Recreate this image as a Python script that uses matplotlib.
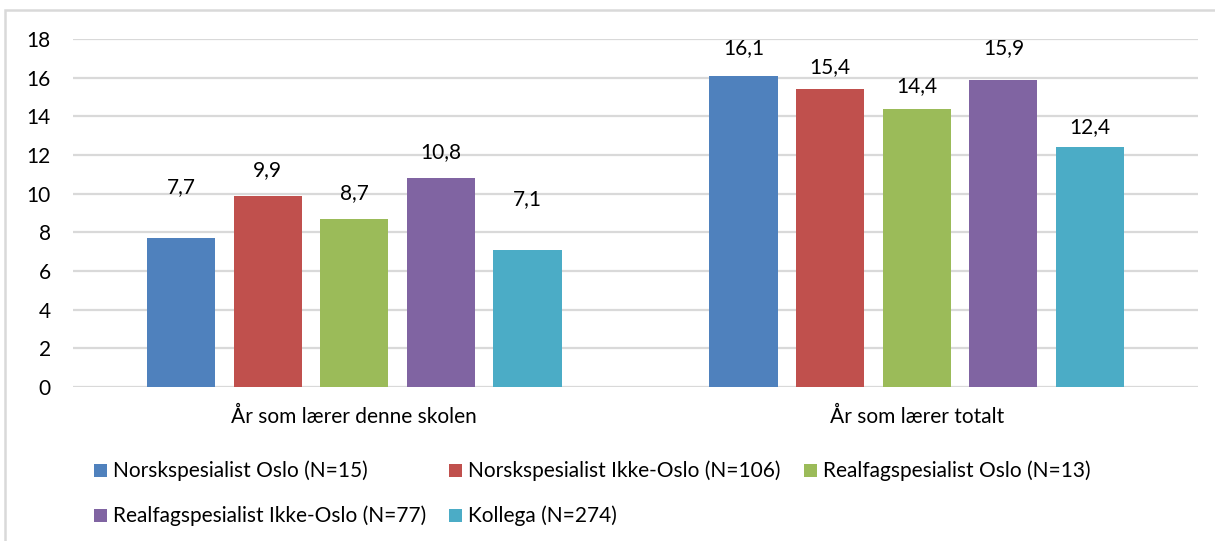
import matplotlib
matplotlib.use("Agg")
import matplotlib.pyplot as plt
from matplotlib.patches import Rectangle
import numpy as np

categories = ["År som lærer denne skolen", "År som lærer totalt"]
series = [
    "Norskspesialist Oslo (N=15)",
    "Norskspesialist Ikke-Oslo (N=106)",
    "Realfagspesialist Oslo (N=13)",
    "Realfagspesialist Ikke-Oslo (N=77)",
    "Kollega (N=274)",
]
values = [
    [7.7, 16.1],
    [9.9, 15.4],
    [8.7, 14.4],
    [10.8, 15.9],
    [7.1, 12.4],
]
colors = ["#4F81BD", "#C0504D", "#9BBB59", "#8064A2", "#4BACC6"]
yticks = [0, 2, 4, 6, 8, 10, 12, 14, 16, 18]
# data-label gap above each bar (pixels), as placed in the original
label_gap_px = [
    [51, 28],
    [26, 22],
    [26, 23],
    [26, 32],
    [51, 20],
]

plt.rcParams["font.family"] = ["Lato", "DejaVu Sans"]
FS = 15
W, H = 1215, 541
fig = plt.figure(figsize=(W / 100, H / 100), dpi=100)
ax = fig.add_axes([73 / W, 1 - 387 / H, (1198 - 73) / W, (387 - 39) / H])

x = np.arange(len(categories))
step = 0.154
width = 0.121
for i, (name, vals, c) in enumerate(zip(series, values, colors)):
    pos = x + (i - 2) * step
    bars = ax.bar(pos, vals, width=width, color=c, zorder=3)
    for b, v, g in zip(bars, vals, label_gap_px[i]):
        ax.annotate(f"{v:.1f}".replace(".", ","), (b.get_x() + b.get_width() / 2, v),
                    xytext=(0, g * 0.72), textcoords="offset points", ha="center",
                    va="center", fontsize=FS, color="#000000")

ax.set_xlim(-0.5, 1.5)
ax.set_ylim(0, 18)
ax.set_yticks(yticks)
ax.set_yticklabels([str(t) for t in yticks], fontsize=FS)
ax.set_xticks(x)
ax.set_xticklabels(categories, fontsize=FS)
ax.tick_params(axis="both", length=0, colors="#000000")
ax.tick_params(axis="y", pad=16)
ax.tick_params(axis="x", pad=14)
ax.grid(axis="y", color="#D9D9D9", linewidth=1.6, zorder=0)
for s in ax.spines.values():
    s.set_visible(False)

# outer chart border
fig.patches.append(Rectangle((5 / W, -0.1), 1.2, 1 - 10 / H + 0.1, transform=fig.transFigure,
                             fill=False, edgecolor="#D9D9D9", linewidth=1.8, zorder=0))

# legend (manual layout, Excel style)
cols_x = [94, 449, 804]
rows_y = [470.5, 515.5]
sq = 13
for i, (name, c) in enumerate(zip(series, colors)):
    r, k = divmod(i, 3)
    x0 = cols_x[k]
    yc = rows_y[r]
    fig.patches.append(Rectangle((x0 / W, 1 - (yc + sq / 2) / H), sq / W, sq / H,
                                 transform=fig.transFigure, facecolor=c, edgecolor="none"))
    fig.text((x0 + sq + 6) / W, 1 - yc / H, name, ha="left", va="center",
             fontsize=FS, color="#000000")

fig.savefig("out.png", dpi=100)
